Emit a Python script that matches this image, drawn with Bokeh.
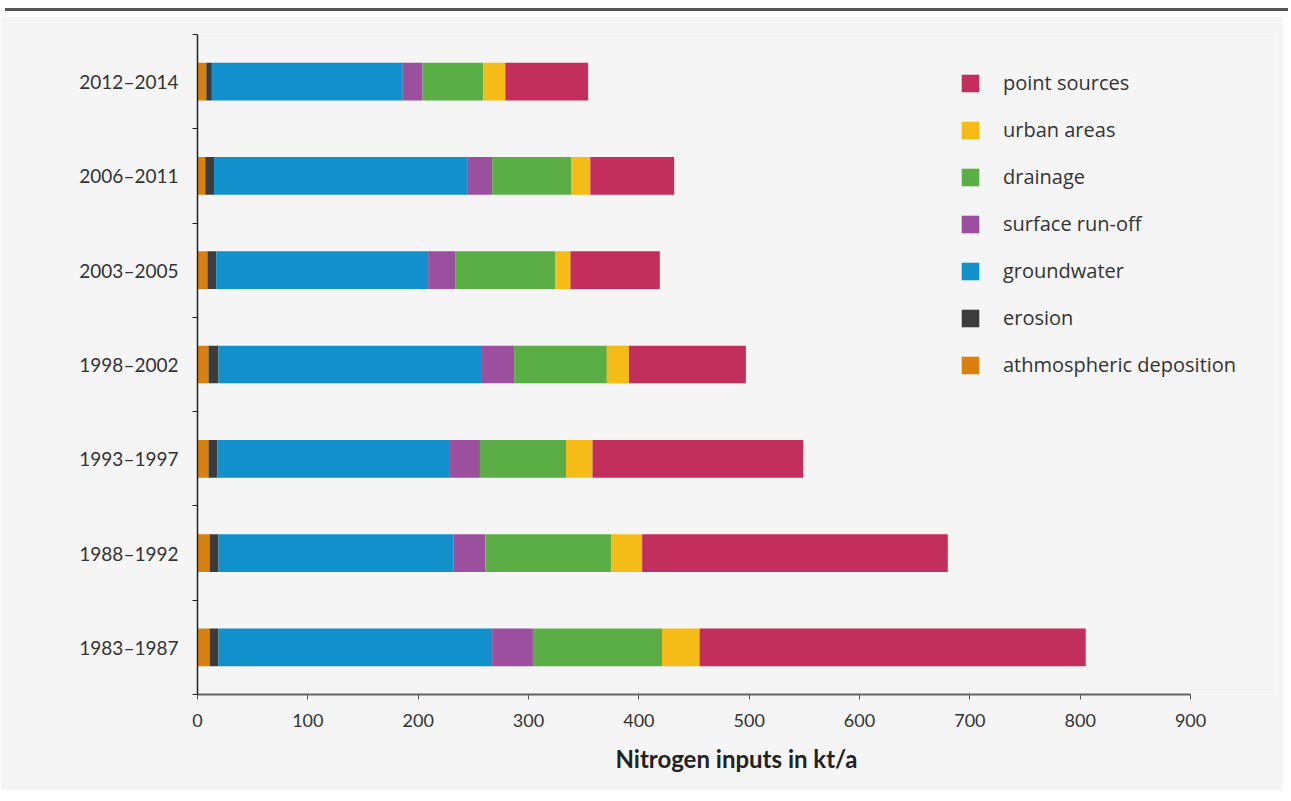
from bokeh.plotting import figure
from bokeh.models import (Range1d, FixedTicker, Legend, LegendItem, ColumnDataSource, Div)
from bokeh.layouts import column
from bokeh.embed import file_html
from bokeh.resources import INLINE

periods = ["1983–1987", "1988–1992", "1993–1997", "1998–2002", "2003–2005", "2006–2011", "2012–2014"]
athmospheric_deposition = [11, 11, 10, 10, 9, 7, 8]
erosion = [8, 8, 8, 9, 8, 8, 5]
groundwater = [248, 213, 210, 238, 192, 230, 173]
surface_runoff = [37, 29, 28, 30, 25, 22, 18]
drainage = [117, 114, 78, 84, 90, 72, 55]
urban_areas = [34, 28, 24, 20, 14, 17, 20]
point_sources = [350, 277, 191, 106, 81, 76, 75]

series_names = ["athmospheric deposition", "erosion", "groundwater", "surface run-off",
                "drainage", "urban areas", "point sources"]
series_keys = ["atm", "ero", "gw", "surf", "drain", "urban", "point"]
colors = ["#d9800f", "#3c3c3c", "#1190cc", "#9c4f9f", "#5bae46", "#f5bb17", "#c32f5d"]
x_ticks = [0, 100, 200, 300, 400, 500, 600, 700, 800, 900]

pos = list(range(1, len(periods) + 1))
source = ColumnDataSource(dict(
    y=pos, atm=athmospheric_deposition, ero=erosion, gw=groundwater,
    surf=surface_runoff, drain=drainage, urban=urban_areas, point=point_sources))

BG = "#f5f5f5"
TXT = "#333333"

p = figure(width=1283, height=774, output_backend="svg", toolbar_location=None,
           x_range=Range1d(0, 977), y_range=Range1d(0.5, 7.5),
           min_border_left=197, min_border_right=8, min_border_top=18, min_border_bottom=96,
           background_fill_color=BG, border_fill_color=BG)
p.outline_line_color = None
p.grid.visible = False

renderers = p.hbar_stack(series_keys, y="y", height=0.4, color=colors, line_color=None,
                         source=source)

# y axis
yax = p.yaxis[0]
yax.ticker = FixedTicker(ticks=pos, minor_ticks=[v + 0.5 for v in range(0, len(periods) + 1)])
yax.major_label_overrides = {i: lab for i, lab in zip(pos, periods)}
yax.major_tick_out = 0
yax.major_tick_in = 0
yax.minor_tick_out = 5
yax.minor_tick_in = 0
yax.minor_tick_line_color = "#222222"
yax.axis_line_color = "#222222"
yax.axis_line_width = 1.5
yax.major_label_text_font = "Lato"
yax.major_label_text_font_size = "19px"
yax.major_label_text_color = TXT
yax.major_label_standoff = 14
yax.bounds = (0.5, 7.5)

# x axis
xax = p.xaxis[0]
xax.ticker = FixedTicker(ticks=x_ticks, minor_ticks=[])
xax.bounds = (0, 900)
xax.major_tick_out = 5
xax.major_tick_in = 0
xax.major_tick_line_color = "#555555"
xax.axis_line_color = "#666666"
xax.axis_line_width = 2
xax.major_label_text_font = "Lato"
xax.major_label_text_font_size = "18px"
xax.major_label_text_color = TXT
xax.major_label_standoff = 14
xax.axis_label = "Nitrogen inputs in kt/a"
xax.axis_label_text_font = "Lato"
xax.axis_label_text_font_style = "bold"
xax.axis_label_text_font_size = "24px"
xax.axis_label_text_color = "#222222"
xax.axis_label_standoff = 14

items = [LegendItem(label=n, renderers=[r]) for n, r in zip(series_names, renderers)]
items = items[::-1]
legend = Legend(items=items, location=(762, 316), orientation="vertical",
                glyph_width=22, glyph_height=22, label_height=27, spacing=20,
                label_standoff=22, padding=0, margin=0,
                label_text_font="Open Sans", label_text_font_size="20px",
                label_text_color=TXT, background_fill_alpha=0, border_line_color=None)
p.add_layout(legend, "center")

rule = Div(width=1283, height=6,
           styles={"background": "linear-gradient(to bottom, transparent 0px, transparent 3px, #555555 3px, #555555 6px)"})
layout = column(rule, p, spacing=0)

open("out.html", "w").write(file_html(layout, INLINE))
